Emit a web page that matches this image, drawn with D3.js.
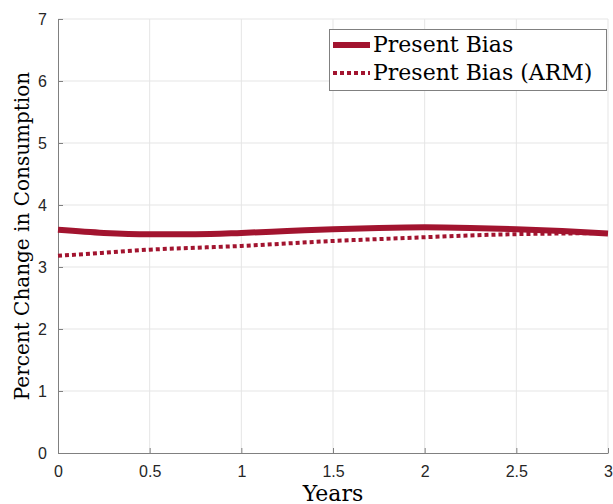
<!DOCTYPE html>
<html lang="en">
<head>
  <meta charset="UTF-8">
  <title>Present Bias</title>
  <script src="https://d3js.org/d3.v7.min.js"></script>
  <style>
    body { margin: 0; background: #fff; }
    .lbl { font-family: "DejaVu Serif", serif; font-size: 22px; fill: #000; }
  </style>
</head>
<body>
  <svg width="613" height="504"></svg>
  <script>
    var years = [0, 0.25, 0.5, 0.75, 1, 1.25, 1.5, 1.75, 2, 2.25, 2.5, 2.75, 3];
    var presentBias = [3.60, 3.55, 3.53, 3.53, 3.55, 3.58, 3.61, 3.63, 3.64, 3.63, 3.61, 3.58, 3.54];
    var presentBiasArm = [3.18, 3.23, 3.28, 3.31, 3.34, 3.38, 3.42, 3.45, 3.48, 3.51, 3.53, 3.54, 3.55];
    var xTicks = [0, 0.5, 1, 1.5, 2, 2.5, 3];
    var yTicks = [0, 1, 2, 3, 4, 5, 6, 7];
    var seriesNames = ["Present Bias", "Present Bias (ARM)"];

    var svg = d3.select("svg");
    var mLeft = 58, mRight = 608, mTop = 19, mBottom = 453;
    var color = "#A2142F";

    var x = d3.scaleLinear().domain([0, 3]).range([mLeft, mRight]);
    var y = d3.scaleLinear().domain([0, 7]).range([mBottom, mTop]);

    // grid
    svg.append("g").selectAll("line").data(xTicks.slice(1)).enter().append("line")
        .attr("x1", d => x(d)).attr("x2", d => x(d))
        .attr("y1", mTop).attr("y2", mBottom)
        .attr("stroke", "#e5e5e5").attr("stroke-width", 1);
    svg.append("g").selectAll("line").data(yTicks.slice(1)).enter().append("line")
        .attr("x1", mLeft).attr("x2", mRight)
        .attr("y1", d => y(d)).attr("y2", d => y(d))
        .attr("stroke", "#e5e5e5").attr("stroke-width", 1);

    // axes
    var xAxis = svg.append("g").attr("transform", "translate(0," + mBottom + ")")
        .call(d3.axisBottom(x).tickValues(xTicks).tickSizeInner(-5).tickSizeOuter(0).tickPadding(13).tickFormat(d3.format("")));
    var yAxis = svg.append("g").attr("transform", "translate(" + mLeft + ",0)")
        .call(d3.axisLeft(y).tickValues(yTicks).tickSizeInner(-5).tickSizeOuter(0).tickPadding(11).tickFormat(d3.format("d")));
    [xAxis, yAxis].forEach(function(a) {
      a.attr("font-family", "'Liberation Sans', Arial, sans-serif").attr("font-size", 16);
      a.selectAll(".tick text").attr("fill", "#262626");
      a.select(".domain").attr("stroke", "#808080");
      a.selectAll(".tick line").attr("stroke", "#808080");
    });

    // lines
    var line = d3.line().x((d, i) => x(years[i])).y(d => y(d)).curve(d3.curveMonotoneX);
    svg.append("path").datum(presentBias).attr("d", line)
        .attr("fill", "none").attr("stroke", color).attr("stroke-width", 6);
    svg.append("path").datum(presentBiasArm).attr("d", line)
        .attr("fill", "none").attr("stroke", color).attr("stroke-width", 4)
        .attr("stroke-dasharray", "4,3");

    // legend
    var lg = svg.append("g");
    lg.append("rect").attr("x", 329.5).attr("y", 29.5).attr("width", 277).attr("height", 61)
        .attr("fill", "#fff").attr("stroke", "#808080").attr("stroke-width", 1);
    seriesNames.forEach(function(name, i) {
      var ly = 45 + i * 28;
      lg.append("line").attr("x1", 333).attr("x2", 370).attr("y1", ly).attr("y2", ly)
          .attr("stroke", color).attr("stroke-width", i === 0 ? 6 : 4)
          .attr("stroke-dasharray", i === 0 ? null : "4,3");
      lg.append("text").attr("class", "lbl").attr("x", 373).attr("y", ly + 7).text(name);
    });

    // axis labels
    svg.append("text").attr("class", "lbl").attr("x", x(1.5)).attr("y", 501)
        .attr("text-anchor", "middle").text("Years");
    svg.append("text").attr("class", "lbl").attr("text-anchor", "middle")
        .attr("font-size", 20).style("font-size", "20px")
        .attr("transform", "translate(29," + y(3.5) + ") rotate(-90)")
        .text("Percent Change in Consumption");
  </script>
</body>
</html>
